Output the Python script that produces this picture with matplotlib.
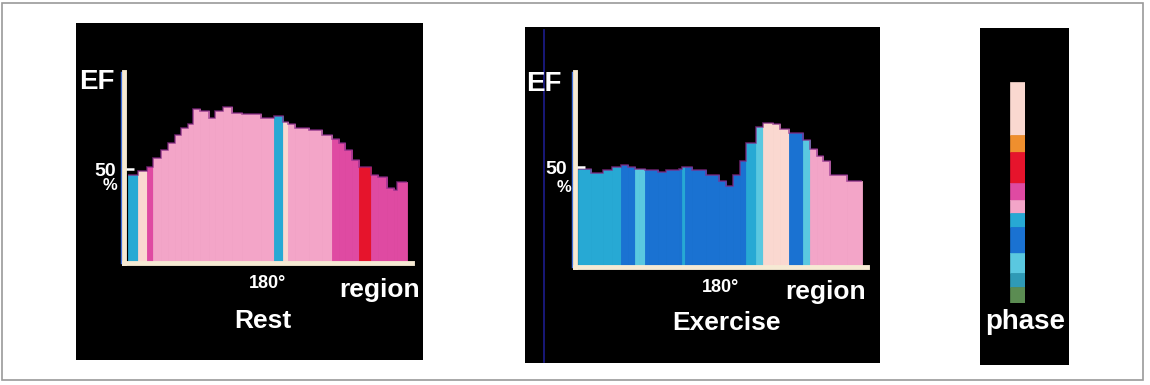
import matplotlib.pyplot as plt
import numpy as np
from matplotlib.patches import Rectangle
from matplotlib.lines import Line2D
from matplotlib.transforms import offset_copy

plt.rcParams['font.family'] = ['Liberation Sans', 'DejaVu Sans']

# phase colour scale (top to bottom of the phase bar)
phase_colors = ['#fad8d0', '#ef8f2e', '#e6142c', '#df4aa2', '#f3a5c8',
                '#27a9d4', '#1a72d2', '#5ac8e0', '#2f9ab6', '#5b8c52']
phase_band = [53, 17, 31, 17, 13, 14, 26, 20, 14, 16]

# Rest: region boundaries (degrees), EF (%) and phase index per region
rest_edges = [0, 13, 24, 32, 43, 52, 60, 69, 78, 84, 93, 104, 112, 123, 134, 147, 172,
              188, 200, 207, 216, 233, 250, 263, 272, 280, 289, 298, 313, 323, 334, 343, 347, 360]
rest_ef = [47, 49, 51, 56, 60, 64, 68, 72, 74, 82, 81, 77, 81, 83, 80, 79, 77,
           78, 75, 74, 72, 71, 68, 66, 64, 60, 55, 51, 47, 46, 40, 39, 43]
rest_phase = [5, 0, 3, 4, 4, 4, 4, 4, 4, 4, 4, 4, 4, 4, 4, 4, 4,
              5, 0, 4, 4, 4, 4, 3, 3, 3, 3, 2, 3, 3, 3, 3, 3]

# Exercise
ex_edges = [0, 17, 32, 43, 55, 64, 72, 77, 85, 90, 102, 111, 128, 132, 136, 145, 162,
            179, 187, 196, 205, 213, 226, 234, 247, 256, 268, 285, 294, 303, 311, 320, 341, 360]
ex_ef = [49, 47, 48.5, 50, 51, 50, 49, 49, 48.5, 48.5, 47.5, 48.5, 49, 50, 50, 48.5, 46,
         43, 40.5, 46, 53, 62, 70, 72, 71.5, 69, 67, 63.5, 59, 55.5, 53, 46, 43]
ex_phase = [5, 5, 5, 5, 6, 6, 7, 7, 6, 6, 6, 6, 6, 5, 6, 6, 6,
            6, 6, 6, 6, 5, 7, 0, 0, 0, 6, 7, 4, 4, 4, 4, 4]

W, H = 1150, 385
fig = plt.figure(figsize=(W / 100, H / 100), dpi=100)
fig.patch.set_facecolor('white')


def px_axes(x0, y0, x1, y1):
    return fig.add_axes([x0 / W, 1 - y1 / H, (x1 - x0) / W, (y1 - y0) / H])


def black_panel(x0, y0, x1, y1):
    a = px_axes(x0, y0, x1, y1)
    a.set_facecolor('black')
    a.set_xticks([])
    a.set_yticks([])
    for s in a.spines.values():
        s.set_visible(False)
    return a


def ftext(x, y, s, **kw):
    kw.setdefault('color', 'white')
    kw.setdefault('fontweight', 'bold')
    fig.text(x / W, 1 - y / H, s, **kw)


def ef_panel(box, edges, ef, phase, xlim, ylim):
    ax = px_axes(*box)
    ax.set_facecolor('none')
    edges = np.array(edges)
    cols = [phase_colors[p] for p in phase]
    ax.bar(edges[:-1], ef, width=np.diff(edges), align='edge', color=cols,
           edgecolor=cols, linewidth=0.6)
    ax.stairs(ef, edges, baseline=None, color='#8a2a8a', lw=1.2, alpha=0.7)
    ax.set_xlim(*xlim)
    ax.set_ylim(*ylim)
    for s in ['top', 'right']:
        ax.spines[s].set_visible(False)
    for s in ['left', 'bottom']:
        ax.spines[s].set_color('#f6ead4')
        ax.spines[s].set_linewidth(3.5)
    ax.plot([0, 0], [0, 1], transform=offset_copy(ax.transAxes, fig=fig, x=-3, y=0, units='dots'),
            color='#3f6fdc', lw=1, clip_on=False)
    ax.set_yticks([50], ['50'])
    ax.set_xticks([180], ['180°'])
    ax.tick_params(axis='y', direction='in', length=7, width=1.8, color='white',
                   labelcolor='white', labelsize=14, pad=6)
    ax.tick_params(axis='x', length=0, labelcolor='white', labelsize=13, pad=9)
    for lab in ax.get_xticklabels() + ax.get_yticklabels():
        lab.set_fontweight('bold')
    return ax


# outer frame
fig.add_artist(Rectangle((2 / W, 1 - 380 / H), 1141 / W, 377 / H, transform=fig.transFigure,
                         facecolor='none', edgecolor='#9a9a9a', lw=1.2))

# Rest
black_panel(76, 23, 423, 360)
ef_panel((124, 72, 412, 263), rest_edges, rest_ef, rest_phase, (-5.2, 366.5), (0, 101.6))
ftext(79, 82, 'EF', fontsize=20, ha='left', va='center')
ftext(110, 185, '%', fontsize=12, ha='center', va='center')
ftext(380, 290, 'region', fontsize=19, ha='center', va='center')
ftext(263, 321, 'Rest', fontsize=19, ha='center', va='center')

# Exercise
black_panel(525, 27, 880, 363)
fig.add_artist(Line2D([544 / W, 544 / W], [1 - 30 / H, 1 - 362 / H], transform=fig.transFigure,
                      color='#1c1c8c', lw=1.2))
ef_panel((575, 72, 867, 267), ex_edges, ex_ef, ex_phase, (-3.8, 366.3), (0, 97.5))
ftext(526, 84, 'EF', fontsize=20, ha='left', va='center')
ftext(564, 187, '%', fontsize=12, ha='center', va='center')
ftext(826, 292, 'region', fontsize=19, ha='center', va='center')
ftext(727, 323, 'Exercise', fontsize=19, ha='center', va='center')

# Phase scale
black_panel(980, 28, 1069, 365)
pax = px_axes(1010, 82, 1025, 303)
pax.set_facecolor('none')
bottoms = np.concatenate([[0], np.cumsum(phase_band)[:-1]])
pax.bar(0, phase_band, bottom=bottoms, width=1, align='edge', color=phase_colors,
        edgecolor=phase_colors, linewidth=0.5)
pax.set_xlim(0, 1)
pax.set_ylim(sum(phase_band), 0)
pax.set_xticks([])
pax.set_yticks([])
for s in pax.spines.values():
    s.set_visible(False)
ftext(1025, 322, 'phase', fontsize=20, ha='center', va='center')

fig.savefig('out.png', dpi=100, facecolor='white')
